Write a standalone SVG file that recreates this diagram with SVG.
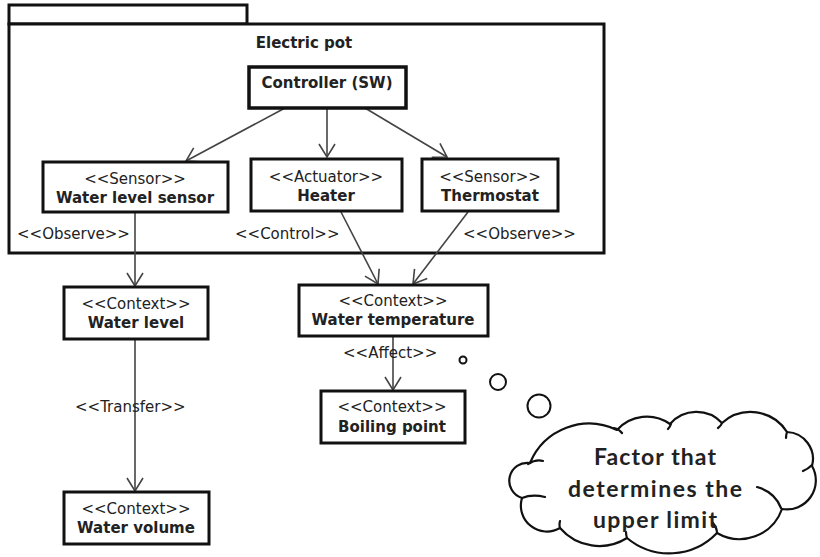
<svg xmlns="http://www.w3.org/2000/svg" width="820" height="557" viewBox="0 0 820 557">
<defs>
<style>
.box{fill:#fff;stroke:#111;stroke-width:3}
.frame{fill:#fff;stroke:#111;stroke-width:3}
.st{font-family:"DejaVu Sans",sans-serif;font-size:15px;fill:#222;text-anchor:middle}
.nm{font-family:"DejaVu Sans",sans-serif;font-size:15px;font-weight:bold;fill:#222;text-anchor:middle}
.lbl{font-family:"DejaVu Sans",sans-serif;font-size:15px;fill:#222}
.conn{stroke:#444;stroke-width:1.6;fill:none;marker-end:url(#arr)}
.cloud{fill:#fff;stroke:#111;stroke-width:2.2;stroke-linejoin:round}
.tail{fill:none;stroke:#111;stroke-width:2.2;stroke-linecap:round}
.ct{font-family:Lato,"Liberation Sans",sans-serif;font-size:23px;font-weight:bold;fill:#222;text-anchor:middle}
</style>
<marker id="arr" markerWidth="16" markerHeight="20" viewBox="-14 -10 16 20" refX="0" refY="0" orient="auto" markerUnits="userSpaceOnUse">
<path d="M-13,-8 L0,0 L-13,8" fill="none" stroke="#444" stroke-width="1.6"/>
</marker>
</defs>

<g id="package">
<rect class="frame" x="9" y="5" width="238" height="19"/>
<rect class="frame" x="9" y="24" width="595" height="229"/>
<text class="nm" x="304" y="48">Electric pot</text>
</g>

<g id="connectors">
<line class="conn" x1="285" y1="108" x2="186" y2="161"/>
<line class="conn" x1="327" y1="108" x2="327" y2="157"/>
<line class="conn" x1="365" y1="108" x2="447" y2="157"/>
<line class="conn" x1="135" y1="212" x2="135" y2="286"/>
<line class="conn" x1="341" y1="212" x2="378" y2="284"/>
<line class="conn" x1="468" y1="212" x2="413" y2="284"/>
<line class="conn" x1="135" y1="339" x2="135" y2="491"/>
<line class="conn" x1="393" y1="336" x2="393" y2="390"/>
<text class="lbl" x="17" y="239">&lt;&lt;Observe&gt;&gt;</text>
<text class="lbl" x="235" y="239">&lt;&lt;Control&gt;&gt;</text>
<text class="lbl" x="463" y="239">&lt;&lt;Observe&gt;&gt;</text>
<text class="lbl" x="75" y="412">&lt;&lt;Transfer&gt;&gt;</text>
<text class="lbl" x="343" y="358">&lt;&lt;Affect&gt;&gt;</text>
</g>

<g id="controller">
<rect class="box" x="249" y="67" width="157" height="41" style="stroke-width:3.5"/>
<text class="nm" x="327" y="88">Controller (SW)</text>
</g>

<g id="water-level-sensor">
<rect class="box" x="43" y="162" width="185" height="50"/>
<text class="st" x="135" y="184">&lt;&lt;Sensor&gt;&gt;</text>
<text class="nm" x="135" y="203">Water level sensor</text>
</g>

<g id="heater">
<rect class="box" x="251" y="159" width="151" height="52"/>
<text class="st" x="326" y="182">&lt;&lt;Actuator&gt;&gt;</text>
<text class="nm" x="326" y="201">Heater</text>
</g>

<g id="thermostat">
<rect class="box" x="422" y="159" width="136" height="52"/>
<text class="st" x="490" y="182">&lt;&lt;Sensor&gt;&gt;</text>
<text class="nm" x="490" y="201">Thermostat</text>
</g>

<g id="water-level">
<rect class="box" x="64" y="287" width="144" height="52"/>
<text class="st" x="136" y="309">&lt;&lt;Context&gt;&gt;</text>
<text class="nm" x="136" y="328">Water level</text>
</g>

<g id="water-volume">
<rect class="box" x="64" y="492" width="145" height="52"/>
<text class="st" x="136" y="514">&lt;&lt;Context&gt;&gt;</text>
<text class="nm" x="136" y="533">Water volume</text>
</g>

<g id="water-temperature">
<rect class="box" x="299" y="285" width="189" height="51"/>
<text class="st" x="393" y="306">&lt;&lt;Context&gt;&gt;</text>
<text class="nm" x="393" y="325">Water temperature</text>
</g>

<g id="boiling-point">
<rect class="box" x="321" y="391" width="144" height="52"/>
<text class="st" x="392" y="412">&lt;&lt;Context&gt;&gt;</text>
<text class="nm" x="392" y="432">Boiling point</text>
</g>

<g id="thought-cloud">
<circle cx="463" cy="360" r="3.5" fill="#fff" stroke="#111" stroke-width="2"/>
<circle cx="498" cy="382" r="8" fill="#fff" stroke="#111" stroke-width="2"/>
<circle cx="539" cy="406" r="11.5" fill="#fff" stroke="#111" stroke-width="2"/>
<path class="cloud" d="M522,498 A18,18 0 0 1 530,463 A64,64 0 0 1 617,430 A40,40 0 0 1 670,424 A35,35 0 0 1 722,423 A43,43 0 0 1 787,432 A27,27 0 0 1 812,466 A29,29 0 0 1 782,509 A45,45 0 0 1 717,533 A66,66 0 0 1 627,538 A52,52 0 0 1 560,528 A26,26 0 0 1 522,498 Z"/>
<path class="tail" d="M528,464 Q536,459 543,461 M614,428 q5,1 8,5 M671,424 q-1,3 -3,5 M722,423 q-1,3 -4,5 M787,432 q-1,3 -1,6 M812,465 q-4,4 -9,6 M757,487 Q775,492 781,508 M717,533 q0,-5 -4,-10 M627,538 q-1,-3 -1,-6 M560,528 q-1,-3 0,-7 M522,498 q10,-4 23,-1"/>
<text class="ct" x="655" y="465" textLength="122" lengthAdjust="spacing">Factor that</text>
<text class="ct" x="655" y="497" textLength="174" lengthAdjust="spacing">determines the</text>
<text class="ct" x="655" y="528" textLength="124" lengthAdjust="spacing">upper limit</text>
</g>
</svg>
